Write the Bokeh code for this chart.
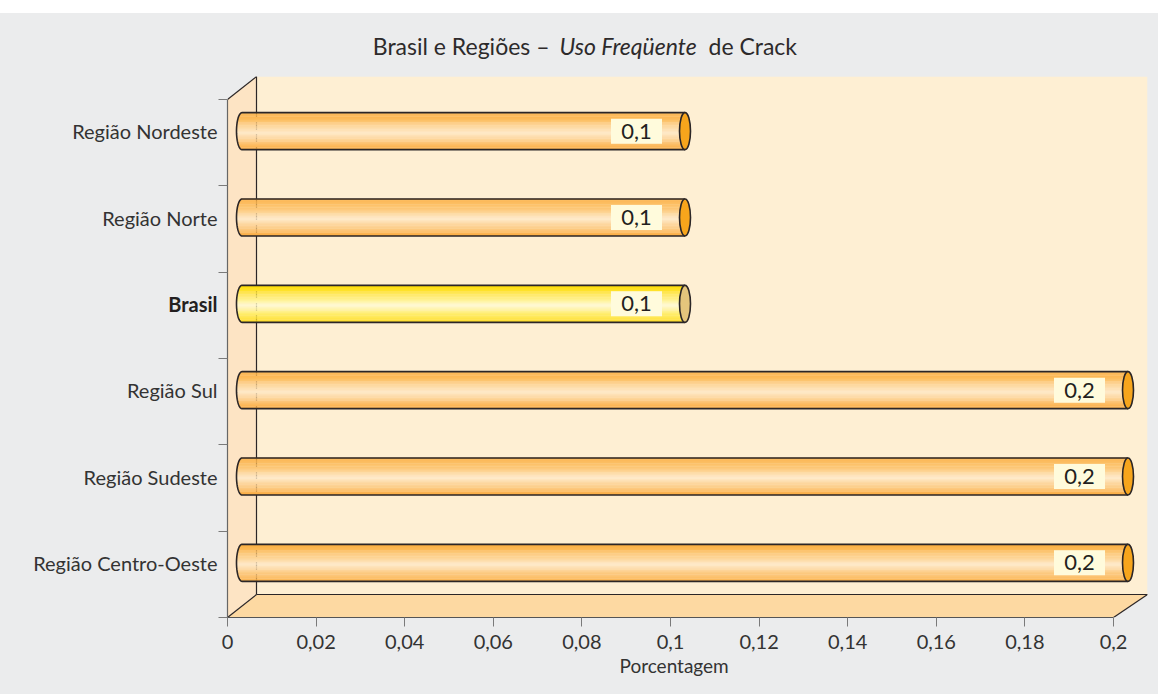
import numpy as np
from bokeh.plotting import figure
from bokeh.models import Range1d, FixedTicker, Spacer, ColumnDataSource, Title
from bokeh.layouts import column, row
from bokeh.embed import file_html
from bokeh.resources import INLINE
from bokeh.core.properties import value

# ---------------- data ----------------
categories = ["Região Centro-Oeste", "Região Sudeste", "Região Sul",
              "Brasil", "Região Norte", "Região Nordeste"]          # bottom -> top
values = [0.2, 0.2, 0.2, 0.1, 0.1, 0.1]
value_labels = ["0,2", "0,2", "0,2", "0,1", "0,1", "0,1"]
highlight = "Brasil"
x_ticks = [0, 0.02, 0.04, 0.06, 0.08, 0.1, 0.12, 0.14, 0.16, 0.18, 0.2]
x_tick_labels = ["0", "0,02", "0,04", "0,06", "0,08", "0,1",
                 "0,12", "0,14", "0,16", "0,18", "0,2"]
title_parts = ["Brasil e Regiões –", "Uso Freqüente", "de Crack"]
x_label = "Porcentagem"

# ---------------- style / geometry ----------------
FONT = "Lato"
BG = "#ebeced"
BACK = "#feefd3"
LEFTW = "#fde4c4"
FLOOR = "#fdd9a2"
EDGE = "#2b2627"
TXT = "#2d2a2b"
PAGE_W = 1158
TOP_GAP = 13
TITLE_H = 63
LABEL_W = 218
XMAX = 0.2
NCAT = len(categories)
FRAME_W, FRAME_H = 920, 541
BOTTOM = 77
XPU = 886 / XMAX            # px per value unit
YPU = 518 / NCAT            # px per category unit
x_end = FRAME_W / XPU
y_end = FRAME_H / YPU
DX = 29 / XPU
DY = y_end - NCAT

common = dict(output_backend="svg", toolbar_location=None,
              background_fill_color=BG, border_fill_color=BG,
              outline_line_color=None)

# ---------------- main plot ----------------
p = figure(x_range=Range1d(0, x_end), y_range=Range1d(0, y_end),
           frame_width=FRAME_W, frame_height=FRAME_H,
           min_border_left=9, min_border_right=PAGE_W - LABEL_W - 9 - FRAME_W,
           min_border_top=0, min_border_bottom=BOTTOM, **common)
p.grid.visible = False

# walls
p.quad(left=DX, right=x_end, bottom=DY, top=y_end, fill_color=BACK, line_color=None)
p.patch([0, DX, DX, 0], [NCAT, y_end, DY, 0], fill_color=LEFTW, line_color=None)
p.patch([0, DX, x_end, XMAX], [0, DY, DY, 0], fill_color=FLOOR, line_color=None)
p.multi_line(xs=[[0, DX], [DX, DX], [DX, x_end], [0, DX], [XMAX, x_end]],
             ys=[[NCAT, y_end], [DY, y_end], [DY, DY], [0, DY], [0, DY]],
             line_color=EDGE, line_width=1.2)

# ---------------- cylinders ----------------
def hex2rgb(h):
    h = h.lstrip("#")
    return np.array([int(h[i:i + 2], 16) for i in (0, 2, 4)], dtype=float)

def grad(stops, t):
    ts = [s[0] for s in stops]
    cols = [hex2rgb(s[1]) for s in stops]
    for j in range(len(ts) - 1):
        if ts[j] <= t <= ts[j + 1]:
            f = (t - ts[j]) / (ts[j + 1] - ts[j])
            c = cols[j] * (1 - f) + cols[j + 1] * f
            return "#%02x%02x%02x" % tuple(int(round(v)) for v in c)
    return stops[-1][1]

ORANGE = [(0, "#fbac3d"), (0.18, "#fcbc5c"), (0.55, "#feeaca"), (0.85, "#fcc06c"), (1, "#fbaa3e")]
YELLOW = [(0, "#ffdc00"), (0.2, "#ffe53c"), (0.55, "#fffbd6"), (0.85, "#ffe84c"), (1, "#ffdb10")]

centers = [k + 0.5 + DY / 2 for k in range(NCAT)]
BAR_H = 37 / YPU
CAP_A = 5.5 / XPU
NS = 40
sl, sr, sb, st, sc = [], [], [], [], []
oxs, oys = [], []
cap_x, cap_y, cap_col = [], [], []
for k, (cat, v) in enumerate(zip(categories, values)):
    x0 = DX / 2
    x1 = v + DX / 2
    c = centers[k]
    stops = YELLOW if cat == highlight else ORANGE
    for i in range(NS):
        t = (i + 0.5) / NS
        u = 2 * t - 1
        top = c + BAR_H / 2 - i * BAR_H / NS
        sl.append(x0 - CAP_A * np.sqrt(max(0.0, 1 - u * u)))
        sr.append(x1)
        st.append(top + 0.002)
        sb.append(top - BAR_H / NS)
        sc.append(grad(stops, t))
    th = np.linspace(np.pi / 2, 3 * np.pi / 2, 40)
    xs = [x1] + list(x0 + CAP_A * np.cos(th)) + [x1]
    ys = [c + BAR_H / 2] + list(c + BAR_H / 2 * np.sin(th)) + [c - BAR_H / 2]
    oxs.append(xs)
    oys.append(ys)
    cap_x.append(x1)
    cap_y.append(c)
    cap_col.append("#e4c57c" if cat == highlight else "#f7a51c")

p.quad(left=sl, right=sr, bottom=sb, top=st, fill_color=sc, line_color=None)
p.multi_line(xs=oxs, ys=oys, line_color=EDGE, line_width=1.6)
p.ellipse(x=cap_x, y=cap_y, width=2 * CAP_A, height=BAR_H, fill_color=cap_col,
          line_color=EDGE, line_width=1.6)

# value label boxes
box_x = [cx - 48.5 / XPU for cx in cap_x]
p.rect(x=box_x, y=cap_y, width=51 / XPU, height=25 / YPU,
       fill_color="#fffbdc", line_color=None)
p.text(x=box_x, y=cap_y, text=value_labels, text_align="center",
       text_baseline="middle", text_font=value(FONT), text_font_size="22px",
       text_color="#231f20")

# ---------------- axes ----------------
xa = p.xaxis[0]
xa.ticker = FixedTicker(ticks=x_ticks)
xa.major_label_overrides = {t: l for t, l in zip(x_ticks, x_tick_labels)}
xa.bounds = (0, XMAX)
xa.axis_line_color = "#555555"
xa.axis_line_width = 1.2
xa.major_tick_in = 0
xa.major_tick_out = 9
xa.major_tick_line_color = "#7a7a7a"
xa.minor_tick_line_color = None
xa.major_label_text_font = FONT
xa.major_label_text_font_size = "20px"
xa.major_label_text_color = "#333333"
xa.major_label_standoff = 8

# axis title, placed under the middle of the tick range (not the full 3-D frame)
p.add_layout(Title(text=x_label, align="left", offset=392, standoff=0,
                   text_font=FONT, text_font_size="19px", text_font_style="normal",
                   text_color="#333333"), "below")

ya = p.yaxis[0]
ya.ticker = FixedTicker(ticks=centers, minor_ticks=list(range(NCAT + 1)))
ya.major_label_overrides = {c: "" for c in centers}
ya.bounds = (0, NCAT)
ya.axis_line_color = "#666666"
ya.axis_line_width = 1.2
ya.major_tick_in = 0
ya.major_tick_out = 0
ya.major_tick_line_color = None
ya.minor_tick_in = 0
ya.minor_tick_out = 9
ya.minor_tick_line_color = "#7a7a7a"
ya.minor_tick_line_width = 1.2
ya.major_label_standoff = 0

# ---------------- category labels (left strip, shares y scale) ----------------
lab = figure(x_range=Range1d(0, LABEL_W), y_range=p.y_range,
             frame_width=LABEL_W, frame_height=FRAME_H,
             min_border_left=0, min_border_right=0, min_border_top=0,
             min_border_bottom=BOTTOM, x_axis_location=None, y_axis_location=None,
             **common)
lab.grid.visible = False
lab_src = ColumnDataSource(dict(
    y=centers, text=categories,
    style=["bold" if c == highlight else "normal" for c in categories],
    color=["#231f20" if c == highlight else "#333333" for c in categories]))
lab.text(x=LABEL_W - 1, y="y", text="text", source=lab_src, text_align="right",
         text_baseline="middle", text_font=value(FONT), text_font_size="20px",
         text_font_style="style", text_color="color")

# ---------------- title strip ----------------
tf = figure(x_range=Range1d(0, PAGE_W), y_range=Range1d(0, TITLE_H),
            frame_width=PAGE_W, frame_height=TITLE_H,
            min_border_left=0, min_border_right=0, min_border_top=0,
            min_border_bottom=0, x_axis_location=None, y_axis_location=None,
            **common)
tf.grid.visible = False
t_src = ColumnDataSource(dict(
    x=[549, 559, 708], y=[31, 31, 31], text=title_parts,
    align=["right", "left", "left"], style=["normal", "italic", "normal"]))
tf.text(x="x", y="y", text="text", source=t_src, text_align="align",
        text_baseline="middle", text_font=value(FONT), text_font_size="23px",
        text_font_style="style", text_color=TXT)

layout = column(Spacer(height=TOP_GAP, width=PAGE_W, styles={"background-color": "white"}),
                tf,
                row(lab, p, styles={"background-color": BG}),
                styles={"background-color": BG})
open("out.html", "w").write(file_html(layout, INLINE))
